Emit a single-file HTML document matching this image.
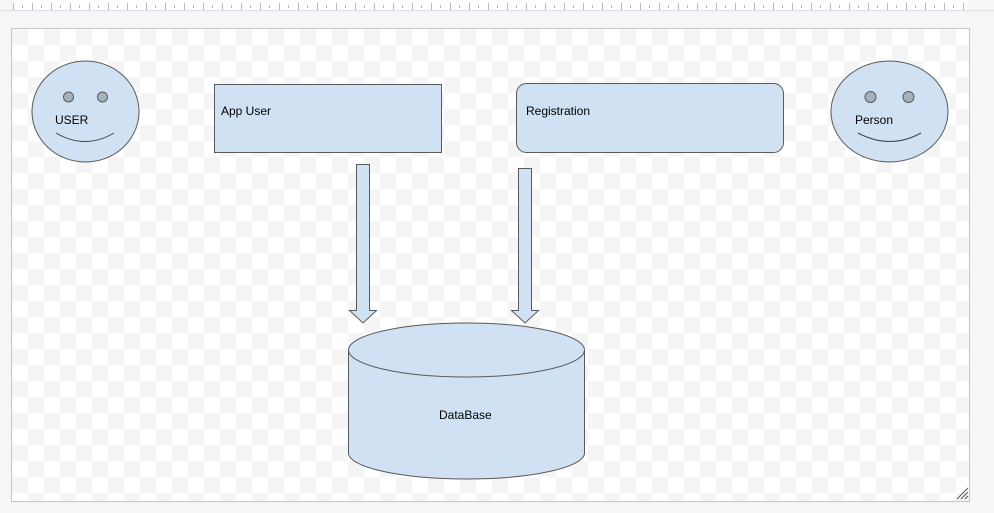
<!DOCTYPE html>
<html><head><style>
html,body{margin:0;padding:0;width:994px;height:513px;overflow:hidden;background:#f5f6f8;}
svg{display:block;}
text{font-family:"Liberation Sans",Arial,sans-serif;font-size:12px;fill:#000;}
</style></head><body>
<svg width="994" height="513" viewBox="0 0 994 513" xmlns="http://www.w3.org/2000/svg">
<defs>
<pattern id="chk" x="12" y="29" width="32" height="32" patternUnits="userSpaceOnUse">
<rect width="32" height="32" fill="#ffffff"/>
<rect width="16" height="16" fill="#f5f5f5"/>
<rect x="16" y="16" width="16" height="16" fill="#f5f5f5"/>
</pattern>
<pattern id="ruler" x="13" y="0" width="19" height="10" patternUnits="userSpaceOnUse">
<line x1="0.5" y1="3" x2="0.5" y2="10" stroke="#b8b8b8"/>
<line x1="9.5" y1="5" x2="9.5" y2="8" stroke="#b8b8b8"/>
</pattern>
</defs>
<rect x="13" y="0" width="955" height="10" fill="#fff"/>
<rect x="13" y="0" width="955" height="10" fill="url(#ruler)"/>
<line x1="0" y1="10.5" x2="994" y2="10.5" stroke="#dadce0"/>
<rect x="11.5" y="28.5" width="958" height="473" fill="url(#chk)" stroke="#c6c6c6"/>
<g fill="#cfe1f3" stroke="#5a5a5a" stroke-width="1">
<ellipse cx="85.5" cy="111.5" rx="53.5" ry="50.5"/>
<ellipse cx="889.5" cy="111.5" rx="58.5" ry="50.5"/>
<rect x="214.5" y="84.5" width="227" height="68"/>
<rect x="516.5" y="83.5" width="267" height="69" rx="10"/>
<path d="M356.5 164.5 H369.5 V310.5 H376.5 L363 323 L349.5 310.5 H356.5 Z"/>
<path d="M518.5 168.5 H531.5 V310.5 H538.5 L525 323 L511.5 310.5 H518.5 Z"/>
<path d="M348.5 350 V453 A118 26 0 0 0 584.5 453 V350"/>
<ellipse cx="466.5" cy="350" rx="118" ry="27"/>
</g>
<g fill="#a7b1bb" stroke="#5a5a5a">
<circle cx="68.5" cy="97" r="5"/><circle cx="102.5" cy="97" r="5"/>
<circle cx="870.5" cy="97" r="5.5"/><circle cx="908.5" cy="97" r="5.5"/>
</g>
<g fill="none" stroke="#444">
<path d="M56 133 Q85 150 114 133"/>
<path d="M858 133 Q890 150 921 133"/>
</g>
<text x="55" y="124">USER</text>
<text x="855" y="124">Person</text>
<text x="221" y="115">App User</text>
<text x="526" y="115">Registration</text>
<text x="439" y="419">DataBase</text>
<g stroke="#555"><line x1="957" y1="499" x2="968" y2="488"/><line x1="961" y1="499" x2="968" y2="492"/><line x1="965" y1="499" x2="968" y2="496"/></g>
</svg>
</body></html>
